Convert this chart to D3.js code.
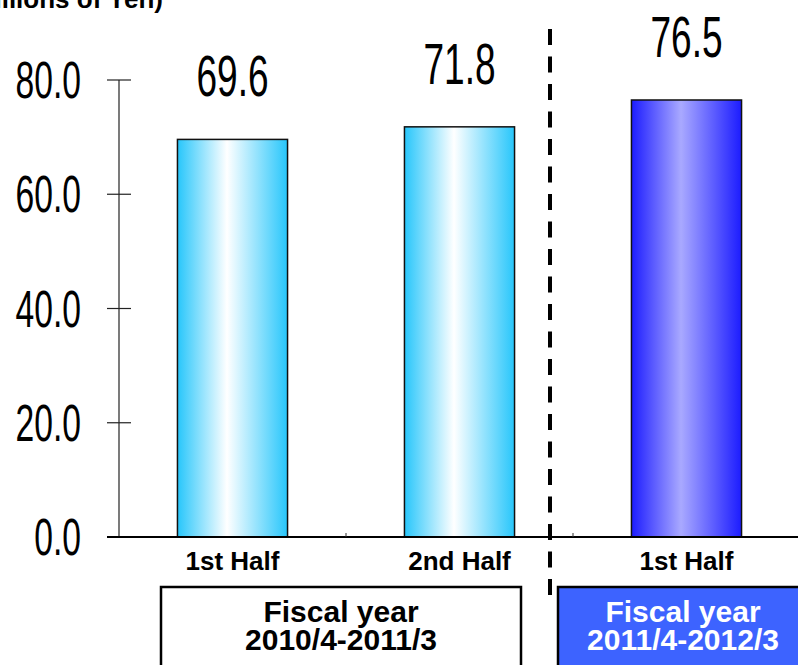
<!DOCTYPE html>
<html>
<head>
<meta charset="utf-8">
<script src="https://cdn.jsdelivr.net/npm/d3@7"></script>
<style>
  html, body { margin: 0; padding: 0; background: #fff; }
  svg { display: block; }
</style>
</head>
<body>
<svg id="chart" width="798" height="665"></svg>
<script>
// Net sales by half-year (billions of yen)
const categories = ["1st Half", "2nd Half", "1st Half"];
const values = [69.6, 71.8, 76.5];
const periods = [
  { label: ["Fiscal year", "2010/4-2011/3"], span: [0, 1] },
  { label: ["Fiscal year", "2011/4-2012/3"], span: [2, 2] }
];
const yTicks = [0, 20, 40, 60, 80];
const unitLabel = "(Billions of Yen)";

const svg = d3.select("#chart");
const W = 798, H = 665;

const y = d3.scaleLinear().domain([0, 80]).range([537, 80]);
const x = d3.scaleBand().domain(d3.range(categories.length)).range([119, 800]).padding(0);
const barW = x.bandwidth() * 0.485;

// gradients for the bars
const defs = svg.append("defs");
function hGrad(id, edge, mid) {
  const g = defs.append("linearGradient").attr("id", id)
    .attr("x1", "0%").attr("x2", "100%").attr("y1", "0%").attr("y2", "0%");
  g.append("stop").attr("offset", "0%").attr("stop-color", edge);
  g.append("stop").attr("offset", "45%").attr("stop-color", mid);
  g.append("stop").attr("offset", "100%").attr("stop-color", edge);
}
hGrad("gradPrev", "#27c6fb", "#ffffff");
hGrad("gradCur", "#1c1cff", "#a9a9ff");

// unit label, partly outside the top-left corner
svg.append("text")
  .attr("x", 163).attr("y", 8)
  .attr("text-anchor", "end")
  .attr("font-family", "Liberation Sans, Arial, sans-serif")
  .attr("font-weight", "bold")
  .attr("font-size", 26)
  .text(unitLabel);

// y axis
const yAxis = svg.append("g");
yAxis.append("line")
  .attr("x1", 119).attr("x2", 119)
  .attr("y1", y(80)).attr("y2", y(0))
  .attr("stroke", "#222").attr("stroke-width", 1.2);
yAxis.selectAll("line.tick").data(yTicks).join("line")
  .attr("class", "tick")
  .attr("x1", 107).attr("x2", 131)
  .attr("y1", d => y(d)).attr("y2", d => y(d))
  .attr("stroke", "#222").attr("stroke-width", 1.2);
yAxis.selectAll("text").data(yTicks).join("text")
  .attr("transform", d => `translate(81,${y(d) + 18}) scale(0.66,1)`)
  .attr("text-anchor", "end")
  .attr("font-family", "Liberation Sans, Arial, sans-serif")
  .attr("font-size", 51)
  .text(d => d.toFixed(1));

// bars
const bars = svg.append("g");
bars.selectAll("rect").data(values).join("rect")
  .attr("x", (d, i) => x(i) + (x.bandwidth() - barW) / 2)
  .attr("width", barW)
  .attr("y", d => y(d))
  .attr("height", d => y(0) - y(d))
  .attr("fill", (d, i) => i < 2 ? "url(#gradPrev)" : "url(#gradCur)")
  .attr("stroke", "#111").attr("stroke-width", 1.5);

// value labels above the bars
svg.append("g").selectAll("text").data(values).join("text")
  .attr("transform", (d, i) => `translate(${x(i) + x.bandwidth() / 2},${y(d) - 43}) scale(0.65,1)`)
  .attr("text-anchor", "middle")
  .attr("font-family", "Liberation Sans, Arial, sans-serif")
  .attr("font-size", 57)
  .text(d => d.toFixed(1));

// x baseline and small separators
svg.append("line")
  .attr("x1", 107).attr("x2", W)
  .attr("y1", y(0)).attr("y2", y(0))
  .attr("stroke", "#000").attr("stroke-width", 2);
svg.selectAll("line.sep").data(d3.range(1, categories.length)).join("line")
  .attr("class", "sep")
  .attr("x1", i => x(i)).attr("x2", i => x(i))
  .attr("y1", y(0) - 4).attr("y2", y(0))
  .attr("stroke", "#333").attr("stroke-width", 1);

// category labels
svg.append("g").selectAll("text").data(categories).join("text")
  .attr("x", (d, i) => x(i) + x.bandwidth() / 2)
  .attr("y", 570)
  .attr("text-anchor", "middle")
  .attr("font-family", "Liberation Sans, Arial, sans-serif")
  .attr("font-weight", "bold")
  .attr("font-size", 26)
  .text(d => d);

// dashed divider between fiscal years
svg.append("line")
  .attr("x1", 550).attr("x2", 550)
  .attr("y1", 29).attr("y2", 606)
  .attr("stroke", "#000").attr("stroke-width", 4)
  .attr("stroke-dasharray", "16,11.5");

// fiscal year boxes
const boxes = [
  { x0: 161, x1: 521, fill: "#ffffff", color: "#000", cx: 341 },
  { x0: 558, x1: 800, fill: "#3d63ff", color: "#ffffff", cx: 683 }
];
periods.forEach((p, k) => {
  const b = boxes[k];
  svg.append("rect")
    .attr("x", b.x0).attr("y", 587)
    .attr("width", b.x1 - b.x0).attr("height", 100)
    .attr("fill", b.fill).attr("stroke", "#000").attr("stroke-width", 2.5);
  svg.append("text")
    .attr("text-anchor", "middle")
    .attr("font-family", "Liberation Sans, Arial, sans-serif")
    .attr("font-weight", "bold")
    .attr("font-size", 30)
    .attr("fill", b.color)
    .selectAll("tspan").data(p.label).join("tspan")
    .attr("x", b.cx)
    .attr("y", (d, j) => 622 + j * 28)
    .text(d => d);
});
</script>
</body>
</html>
